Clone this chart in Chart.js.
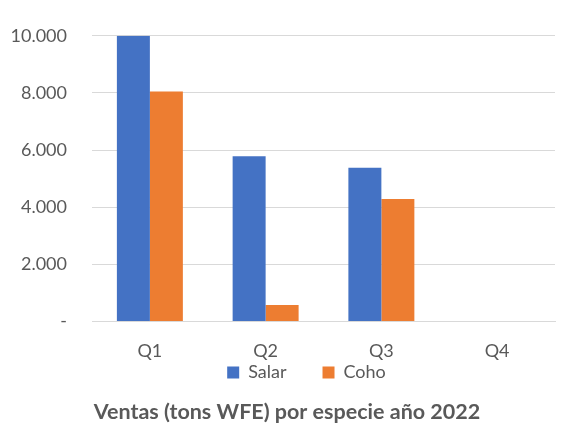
<!DOCTYPE html>
<html lang="es">
<head>
    <meta charset="UTF-8">
    <script src="https://cdn.jsdelivr.net/npm/chart.js"></script>
    <style>
        body { margin: 0; background: #fff; }
        canvas { display: block; }
    </style>
    <title>Ventas por especie</title>
</head>
<body>
<canvas id="ventasChart" width="567" height="423"></canvas>
<script>
    // Datos
    const trimestres = ['Q1', 'Q2', 'Q3', 'Q4'];
    const salar = [10000, 5780, 5380, null];
    const coho = [8050, 575, 4290, null];
    const ticksY = [0, 2000, 4000, 6000, 8000, 10000];

    const gris = '#595959';
    const fuente = "Lato, 'Open Sans', sans-serif";

    // La leyenda de Excel separa mucho los elementos; el padding de Chart.js
    // también empuja los elementos hacia abajo, así que se compensa al dibujar.
    // Leyenda y título van algo a la derecha del centro, como en Excel.
    const ajusteLeyenda = {
        id: 'ajusteLeyenda',
        afterInit(chart) {
            const lg = chart.legend;
            const dibujar = lg._draw.bind(lg);
            lg._draw = function () {
                const { top, left, right } = this;
                this.top = top - 36;
                this.left = left + 29;
                this.right = right + 29;
                dibujar();
                Object.assign(this, { top, left, right });
            };
            const tb = chart.titleBlock;
            const dibujarTitulo = tb.draw.bind(tb);
            tb.draw = function () {
                const { left, right } = this;
                this.left = left + 9.5;
                this.right = right + 9.5;
                dibujarTitulo();
                Object.assign(this, { left, right });
            };
        }
    };

    const ctx = document.getElementById('ventasChart').getContext('2d');
    new Chart(ctx, {
        type: 'bar',
        data: {
            labels: trimestres,
            datasets: [{
                label: 'Salar',
                data: salar,
                backgroundColor: '#4472c4',
                borderWidth: 0
            }, {
                label: 'Coho',
                data: coho,
                backgroundColor: '#ed7d31',
                borderWidth: 0
            }]
        },
        plugins: [ajusteLeyenda],
        options: {
            responsive: false,
            animation: false,
            layout: { padding: { top: 35, right: 12, bottom: 0, left: 0 } },
            datasets: { bar: { categoryPercentage: 0.57, barPercentage: 1 } },
            scales: {
                x: {
                    afterFit: s => { s.height = 42; },
                    grid: { display: false, drawTicks: false },
                    border: { color: '#d9d9d9', width: 1 },
                    ticks: { color: gris, font: { family: fuente, size: 18 }, padding: 19 }
                },
                y: {
                    min: 0,
                    max: 10000,
                    afterBuildTicks: s => { s.ticks = ticksY.map(v => ({ value: v })); },
                    afterFit: s => { s.width = 92; },
                    border: { display: false },
                    grid: { color: '#d9d9d9', drawTicks: false },
                    ticks: {
                        color: gris,
                        padding: 25,
                        font: { family: fuente, size: 18 },
                        callback: v => v === 0 ? '-' : v.toLocaleString('de-DE')
                    }
                }
            },
            plugins: {
                legend: {
                    position: 'bottom',
                    maxHeight: 24,
                    labels: {
                        color: gris,
                        boxWidth: 12,
                        boxHeight: 12,
                        padding: 36,
                        font: { family: fuente, size: 18 }
                    }
                },
                title: {
                    display: true,
                    position: 'bottom',
                    text: 'Ventas (tons WFE) por especie año 2022',
                    color: gris,
                    padding: { top: 14, bottom: 0 },
                    font: { family: fuente, size: 21.5, weight: 'bold', lineHeight: 1 }
                },
                tooltip: { enabled: false }
            }
        }
    });
</script>
</body>
</html>
